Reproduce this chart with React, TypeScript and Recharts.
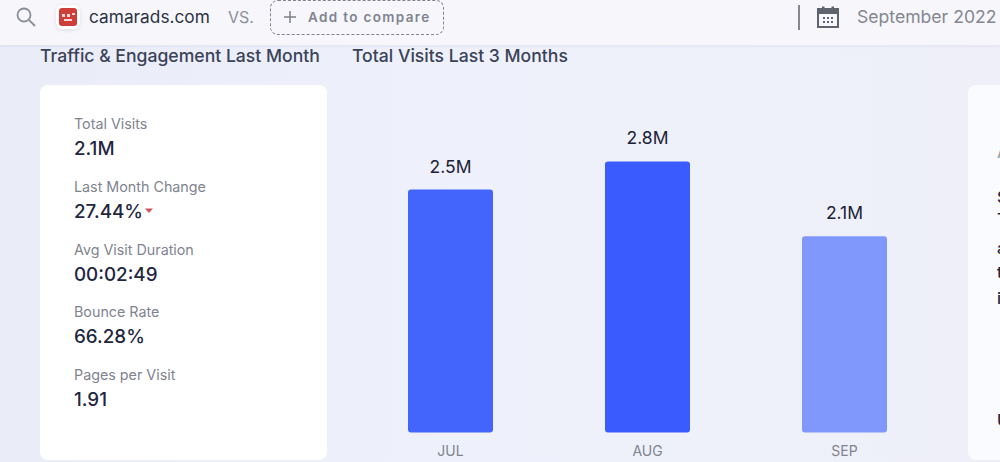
import { BarChart, Bar, XAxis, YAxis, Cell, LabelList } from "recharts";

const MONTHS = ["JUL", "AUG", "SEP"];
const VISITS = [2.5, 2.79, 2.02];
const VISIT_LABELS = ["2.5M", "2.8M", "2.1M"];
const BAR_COLORS = ["#4465fb", "#3a5cff", "#8098fb"];

const STAT_NAMES = ["Total Visits", "Last Month Change", "Avg Visit Duration", "Bounce Rate", "Pages per Visit"];
const STAT_VALUES = ["2.1M", "27.44%", "00:02:49", "66.28%", "1.91"];

const CLIPPED_LETTERS = [
  { ch: "A", y: 152 },
  { ch: "S", y: 197 },
  { ch: "T", y: 219 },
  { ch: "a", y: 248 },
  { ch: "t", y: 272 },
  { ch: "i", y: 298 },
  { ch: "U", y: 420 },
];

const FONT = "Inter, 'Noto Sans', sans-serif";
const data = MONTHS.map((month, i) => ({ month, visits: VISITS[i], label: VISIT_LABELS[i] }));

const abs = (left: number, top: number, extra: any = {}) => ({
  position: "absolute" as const,
  left,
  top,
  whiteSpace: "nowrap" as const,
  ...extra,
});

export default function App() {
  return (
    <div style={{ position: "absolute", left: 0, top: 0, width: 1000, height: 462, overflow: "hidden", fontFamily: FONT, background: "linear-gradient(90deg, #eaecf8 0%, #eef1fb 45%, #eeeff9 100%)" }}>
      {/* top bar */}
      <div style={{ position: "absolute", left: 0, top: 0, width: 1000, height: 45, background: "#f6f6fb", boxShadow: "0 1px 3px rgba(60,70,110,0.08)" }} />
      <svg style={abs(14, 6)} width="24" height="22" viewBox="0 0 24 22">
        <circle cx="10" cy="9" r="6.5" fill="none" stroke="#8b8f99" strokeWidth="1.8" />
        <line x1="15" y1="14" x2="21" y2="20" stroke="#8b8f99" strokeWidth="1.8" />
      </svg>
      <div style={abs(56, 5, { width: 24, height: 24, background: "#fff", borderRadius: 6, boxShadow: "0 1px 4px rgba(0,0,0,0.1)" })} />
      <svg style={abs(59, 8)} width="18" height="18" viewBox="0 0 18 18">
        <rect x="0" y="0" width="18" height="18" rx="3" fill="#cf3f3a" />
        <path d="M3 6 h3 v3 h-3 z M8 6 h3 v3 h-3 z M13 5 h3 v2 h-3 z M5 11 h8 v2 h-8 z" fill="#f6d9d6" />
      </svg>
      <div style={abs(89, 6, { fontSize: 17.3, lineHeight: "22px", color: "#2d3344" })}>camarads.com</div>
      <div style={abs(228, 7, { fontSize: 16, lineHeight: "20px", color: "#8b8f99" })}>VS.</div>
      <div style={abs(270, 0, { width: 172, height: 33, border: "1px dashed #80848f", borderRadius: 8 })} />
      <svg style={abs(282, 10)} width="16" height="14" viewBox="0 0 16 14">
        <path d="M8 1 V13 M2 7 H14" stroke="#7c808b" strokeWidth="1.5" />
      </svg>
      <div style={abs(308, 8, { fontSize: 13.5, lineHeight: "18px", fontWeight: 600, letterSpacing: 1.35, color: "#80848f" })}>Add to compare</div>
      <div style={abs(798, 5, { width: 2, height: 25, background: "#85888f" })} />
      <svg style={abs(816, 5)} width="24" height="24" viewBox="0 0 24 24">
        <rect x="2" y="4" width="20" height="18" fill="none" stroke="#5f636e" strokeWidth="2" />
        <rect x="2" y="4" width="20" height="5" fill="#5f636e" />
        <rect x="6" y="1.5" width="2.5" height="4" fill="#5f636e" />
        <rect x="15.5" y="1.5" width="2.5" height="4" fill="#5f636e" />
        <path d="M7 13 h2 M11 13 h2 M15 13 h2 M7 17 h2 M11 17 h2 M15 17 h2" stroke="#5f636e" strokeWidth="2" />
      </svg>
      <div style={abs(857, 6, { fontSize: 17.6, lineHeight: "22px", color: "#84878f" })}>September 2022</div>

      {/* section titles */}
      <div style={abs(40, 45, { fontSize: 17.6, lineHeight: "22px", fontWeight: 500, color: "#3a4358" })}>Traffic &amp; Engagement Last Month</div>
      <div style={abs(352, 45, { fontSize: 17.6, lineHeight: "22px", fontWeight: 500, color: "#3a4358" })}>Total Visits Last 3 Months</div>

      {/* stats card */}
      <div style={abs(40, 85, { width: 287, height: 375, background: "#fff", borderRadius: 8 })} />
      {STAT_NAMES.map((name, i) => (
        <div key={name}>
          <div style={abs(74, 115 + i * 62.75, { fontSize: 14.3, lineHeight: "18px", color: "#7f8490" })}>{name}</div>
          <div style={abs(74, 137 + i * 62.8, { fontSize: 18.8, lineHeight: "24px", fontWeight: 500, color: "#1f2740" })}>{STAT_VALUES[i]}</div>
        </div>
      ))}
      <svg style={abs(144, 208)} width="10" height="6" viewBox="0 0 10 6">
        <path d="M1 0.5 H9 L5 5 Z" fill="#d0555a" />
      </svg>

      {/* right card, cut off by the page */}
      <div style={abs(968, 85, { width: 60, height: 375, background: "#fafbfe", borderRadius: 8, overflow: "hidden" })}>
        {CLIPPED_LETTERS.map((l) => (
          <div key={l.y} style={abs(29, l.y - 85 - 10, { fontSize: 16, lineHeight: "20px", fontWeight: 500, color: l.ch === "A" ? "#9a9ea8" : "#1f2740" })}>{l.ch}</div>
        ))}
      </div>

      <div style={abs(352, 85)}>
        <BarChart width={591} height={377} data={data} margin={{ top: 56, right: 0, bottom: 0, left: 0 }} barCategoryGap={0}>
          <XAxis dataKey="month" axisLine={false} tickLine={false} height={29.5} interval={0} tick={{ fill: "#80848f", fontSize: 14, fontFamily: FONT, dy: 6 }} />
          <YAxis hide domain={[0, 3]} />
          <Bar dataKey="visits" barSize={85} radius={[3, 3, 3, 3]} isAnimationActive={false}>
            {data.map((d, i) => (
              <Cell key={d.month} fill={BAR_COLORS[i]} />
            ))}
            <LabelList dataKey="label" position="top" offset={17} fill="#1b2235" fontSize={17.5} fontFamily={FONT} />
          </Bar>
        </BarChart>
      </div>
    </div>
  );
}
